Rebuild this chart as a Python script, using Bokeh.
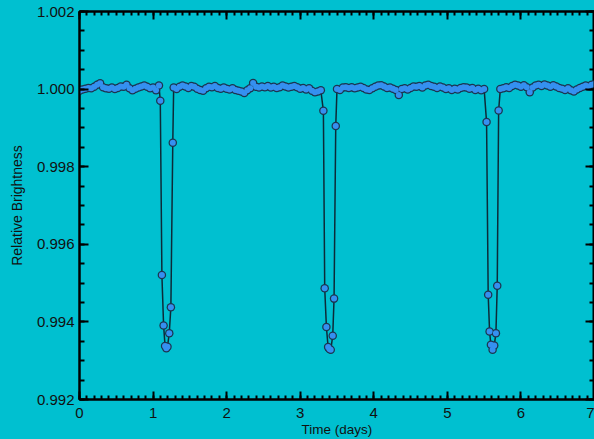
import numpy as np
from bokeh.plotting import figure
from bokeh.models import (Range1d, LinearAxis, SingleIntervalTicker, PrintfTickFormatter,
                          CustomJSTickFormatter)
from bokeh.embed import file_html
from bokeh.resources import INLINE

# ---- data ----
# out-of-transit segments: times (days) and deviation from 1.0 in parts per million
seg1_t = [0.00, 0.04, 0.08, 0.12, 0.16, 0.20, 0.24, 0.28, 0.32, 0.36, 0.40, 0.44, 0.48, 0.52,
          0.56, 0.60, 0.64, 0.68, 0.72, 0.76, 0.80, 0.84, 0.88, 0.92, 0.96, 1.00, 1.04, 1.08]
seg1_ppm = [-40, -10, 10, 30, 20, 60, 110, 150, 50, 20, 10, 40, 0, 30,
            70, 60, 110, 20, -30, 10, 40, 70, 90, 60, 20, 40, -30, 90]

seg2_t = [1.28, 1.32, 1.36, 1.40, 1.44, 1.48, 1.52, 1.56, 1.60, 1.64, 1.68, 1.72, 1.76, 1.80,
          1.84, 1.88, 1.92, 1.96, 2.00, 2.04, 2.08, 2.12, 2.16, 2.20, 2.24, 2.28, 2.32, 2.36,
          2.40, 2.44, 2.48, 2.52, 2.56, 2.60, 2.64, 2.68, 2.72, 2.76, 2.80, 2.84, 2.88, 2.92,
          2.96, 3.00, 3.04, 3.08, 3.12, 3.16, 3.20, 3.24, 3.28]
seg2_ppm = [40, 0, 60, 90, 70, 30, 80, 60, 10, -20, -40, 20, 60, 50,
            80, 30, 10, 40, 10, -10, 20, -20, -40, -60, -100, -30, 20, 160,
            60, 40, 70, 50, 80, 40, 60, 30, 50, 90, 70, 40, 60, 80,
            50, 10, 30, -10, 20, -40, -80, -60, -30]

seg3_t = [3.50, 3.54, 3.58, 3.62, 3.66, 3.70, 3.74, 3.78, 3.82, 3.86, 3.90, 3.94, 3.98, 4.02,
          4.06, 4.10, 4.14, 4.18, 4.22, 4.26, 4.30, 4.34, 4.38, 4.42, 4.46, 4.50, 4.54, 4.58,
          4.62, 4.66, 4.70, 4.74, 4.78, 4.82, 4.86, 4.90, 4.94, 4.98, 5.02, 5.06, 5.10, 5.14,
          5.18, 5.22, 5.26, 5.30, 5.34, 5.38, 5.42, 5.46, 5.50]
seg3_ppm = [0, -20, 40, 50, 30, 50, 20, 40, 60, 30, -10, -20, 20, 60,
            90, 100, 70, 30, 40, 10, -20, -150, 0, 20, -10, 30, 70, 60,
            80, 40, 90, 110, 80, 60, 30, 70, 40, 0, 20, -20, 10, -10,
            30, 50, 40, 10, 30, -20, 10, -30, 0]

seg4_t = [5.72, 5.76, 5.80, 5.84, 5.88, 5.92, 5.96, 6.00, 6.04, 6.08, 6.12, 6.16, 6.20, 6.24,
          6.28, 6.32, 6.36, 6.40, 6.44, 6.48, 6.52, 6.56, 6.60, 6.64, 6.68, 6.72, 6.76, 6.80,
          6.84, 6.88, 6.92, 6.96, 7.00]
seg4_ppm = [0, 20, 50, 30, 80, 110, 90, 60, 100, 50, -80, 40, 90, 110,
            80, 120, 90, 60, 100, 70, 30, 10, -20, 20, -30, -60, -10, 30,
            60, 90, 70, 110, 130]

# in-transit points
tr1_t = [1.098, 1.120, 1.143, 1.163, 1.180, 1.196, 1.220, 1.242, 1.268]
tr1_v = [0.99970, 0.99521, 0.99391, 0.99338, 0.99332, 0.99336, 0.99371, 0.99438, 0.99862]
tr2_t = [3.315, 3.333, 3.356, 3.379, 3.397, 3.415, 3.442, 3.460, 3.483]
tr2_v = [0.99944, 0.99487, 0.99387, 0.99335, 0.99330, 0.99328, 0.99364, 0.99460, 0.99905]
tr3_t = [5.533, 5.555, 5.574, 5.592, 5.615, 5.637, 5.660, 5.678, 5.697]
tr3_v = [0.99915, 0.99470, 0.99375, 0.99341, 0.99328, 0.99339, 0.99371, 0.99493, 0.99945]

x_ticks_interval = 1
y_ticks_interval = 0.002

def base(ppm):
    return [1.0 + d * 1e-6 for d in ppm]

t_all = seg1_t + tr1_t + seg2_t + tr2_t + seg3_t + tr3_t + seg4_t
v_all = (base(seg1_ppm) + tr1_v + base(seg2_ppm) + tr2_v + base(seg3_ppm) + tr3_v
         + base(seg4_ppm))

BG = "#00c0d0"
FONT = "Liberation Sans"

p = figure(width=594, height=439, output_backend="svg", toolbar_location=None,
           x_range=Range1d(0, 7), y_range=Range1d(0.992, 1.002),
           min_border_left=79, min_border_right=0, min_border_top=11, min_border_bottom=40,
           x_axis_label="Time (days)", y_axis_label="Relative Brightness")
p.background_fill_color = BG
p.border_fill_color = BG
p.outline_line_color = "black"
p.outline_line_width = 2
p.grid.visible = False

p.xaxis.ticker = SingleIntervalTicker(interval=x_ticks_interval, num_minor_ticks=10)
p.yaxis.ticker = SingleIntervalTicker(interval=y_ticks_interval, num_minor_ticks=4)
p.yaxis.formatter = PrintfTickFormatter(format="%.3f")

for ax in (p.xaxis[0], p.yaxis[0]):
    ax.axis_line_width = 2
    ax.axis_line_color = "black"
    ax.major_tick_line_width = 2
    ax.minor_tick_line_width = 2
    ax.major_tick_line_color = "black"
    ax.minor_tick_line_color = "black"
    ax.major_tick_out = 0
    ax.minor_tick_out = 0
    ax.major_label_text_font = FONT
    ax.major_label_text_font_size = "15px"
    ax.major_label_text_color = "#111111"
    ax.axis_label_text_font = FONT
    ax.axis_label_text_font_size = "13.5px"
    ax.axis_label_text_font_style = "normal"
    ax.axis_label_text_color = "#111111"
p.yaxis.axis_label_text_font_size = "14px"

p.xaxis.major_tick_in = 8
p.xaxis.minor_tick_in = 4
p.yaxis.major_tick_in = 9
p.yaxis.minor_tick_in = 5
p.xaxis.major_label_standoff = 8
p.xaxis.axis_label_standoff = 1
p.yaxis.major_label_standoff = 5
p.yaxis.axis_label_standoff = 9

blank = CustomJSTickFormatter(code="return ''")
top = LinearAxis(ticker=SingleIntervalTicker(interval=x_ticks_interval, num_minor_ticks=10),
                 formatter=blank)
right = LinearAxis(ticker=SingleIntervalTicker(interval=y_ticks_interval, num_minor_ticks=4),
                   formatter=CustomJSTickFormatter(code="return ''"))
for ax, mj, mn in ((top, 8, 4), (right, 9, 5)):
    ax.axis_line_width = 2
    ax.major_tick_line_width = 2
    ax.minor_tick_line_width = 2
    ax.major_tick_in = mj
    ax.minor_tick_in = mn
    ax.major_tick_out = 0
    ax.minor_tick_out = 0
    ax.major_label_text_font_size = "1px"
    ax.major_label_standoff = 0
p.add_layout(top, "above")
p.add_layout(right, "right")

p.line(t_all, v_all, line_color="#0d2a38", line_width=1.5)
p.scatter(t_all, v_all, size=8.5, fill_color="#1c3550", line_color=None)
p.scatter(t_all, v_all, size=6, fill_color="#3590f0", line_color=None)

html = file_html(p, INLINE)
html = html.replace("<head>", "<head><style>html,body{background:#00c0d0;}</style>", 1)
open("out.html", "w").write(html)
